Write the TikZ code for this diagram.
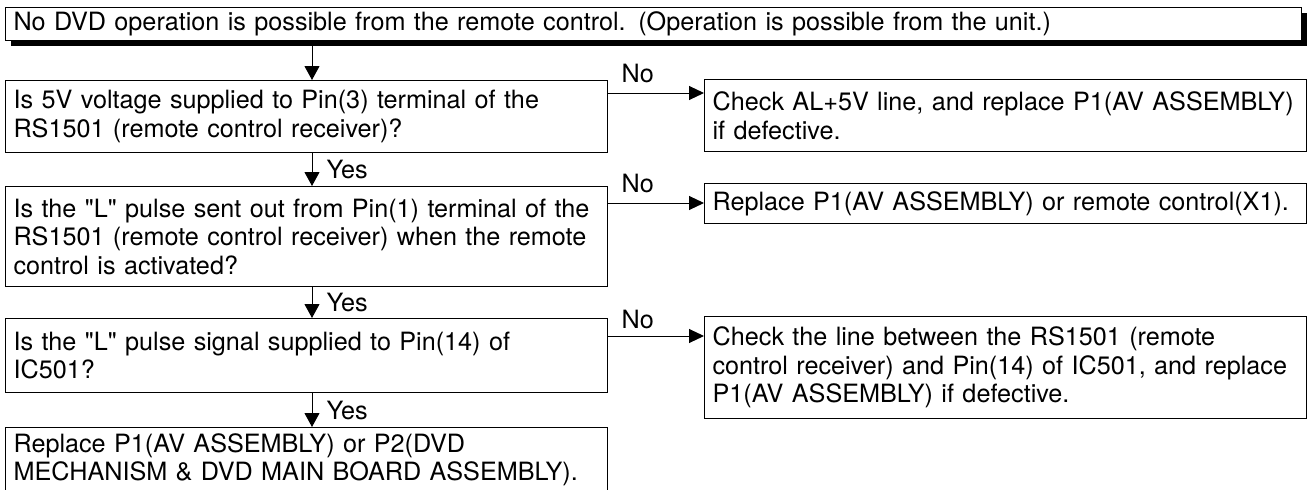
\documentclass[tikz,border=0pt]{standalone}
\usepackage{fontspec}
\setmainfont{TeX Gyre Heros}
\usetikzlibrary{arrows.meta,shadows}
\tikzset{
	box/.style={draw, line width=1.1pt, fill=white, anchor=north west, inner xsep=8pt, inner ysep=0pt, text width=586pt, align=left, font=\fontsize{25.2}{28.5}\selectfont},
	lbl/.style={inner sep=2pt, font=\fontsize{25.2}{28.5}\selectfont},
	varr/.style={line width=1pt, -{Triangle[length=14pt,width=15pt]}},
	harr/.style={line width=1pt, -{Triangle[length=15pt,width=14pt]}}
}
\newcommand{\qL}{\textquotedbl L\textquotedbl}
\begin{document}
\begin{tikzpicture}[x=1pt, y=-1pt]
	\useasboundingbox (0,0) rectangle (1315,490);
	\clip (0,0) rectangle (1315,490);
	\node[box, text width=1280pt, minimum height=33pt, drop shadow={shadow xshift=5pt, shadow yshift=-5pt, opacity=1, fill=black}] (start) at (5,7) {No DVD operation is possible from the remote control. (Operation is possible from the unit.)};
	\node[box, minimum height=72pt] (q1) at (5,80) {Is 5V voltage supplied to Pin(3) terminal of the\\RS1501 (remote control receiver)?};
	\node[box, minimum height=72pt] (a1) at (704,79) {Check AL+5V line, and replace P1(AV ASSEMBLY)\\if defective.};
	\node[box, minimum height=100pt] (q2) at (5,186) {Is the \qL{} pulse sent out from Pin(1) terminal of the\\RS1501 (remote control receiver) when the remote\\control is activated?};
	\node[box, minimum height=40pt] (a2) at (704,183) {Replace P1(AV ASSEMBLY) or remote control(X1).};
	\node[box, minimum height=74pt] (q3) at (5,318) {Is the \qL{} pulse signal supplied to Pin(14) of\\IC501?};
	\node[box, minimum height=102pt] (a3) at (704,316) {Check the line between the RS1501 (remote\\control receiver) and Pin(14) of IC501, and replace\\P1(AV ASSEMBLY) if defective.};
	\node[box, minimum height=64pt] (fin) at (5,427) {Replace P1(AV ASSEMBLY) or P2(DVD\\MECHANISM \& DVD MAIN BOARD ASSEMBLY).};
	\coordinate (col) at (312,0);
	\draw[varr] (start.south -| col) -- (q1.north -| col);
	\draw[varr] (q1.south -| col) -- node[lbl, right=12pt] {Yes} (q2.north -| col);
	\draw[varr] (q2.south -| col) -- node[lbl, right=12pt] {Yes} (q3.north -| col);
	\draw[varr] (q3.south -| col) -- node[lbl, right=12pt] {Yes} (fin.north -| col);
	\draw[harr] ([yshift=-13pt]q1.north east) -- node[lbl, pos=0.31, above=8pt] {No} ([yshift=-13pt]q1.north east -| a1.west);
	\draw[harr] ([yshift=-17pt]q2.north east) -- node[lbl, pos=0.31, above=8pt] {No} ([yshift=-17pt]q2.north east -| a2.west);
	\draw[harr] ([yshift=-18pt]q3.north east) -- node[lbl, pos=0.31, above=5pt] {No} ([yshift=-18pt]q3.north east -| a3.west);
\end{tikzpicture}
\end{document}
